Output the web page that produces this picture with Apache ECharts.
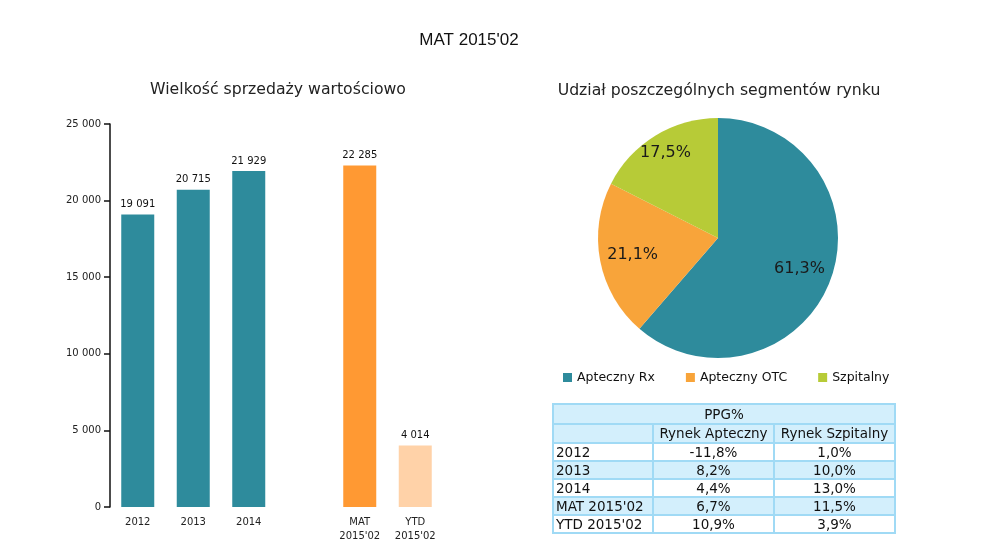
<!DOCTYPE html>
<html><head><meta charset="utf-8">
<script src="https://cdn.jsdelivr.net/npm/echarts@6/dist/echarts.min.js"></script>
<style>html,body{margin:0;padding:0;background:#fff}#c{width:984px;height:560px}</style>
</head><body><div id="c"></div>
<script>
// ---- data ----
const mainTitle = "MAT 2015'02";
const barTitle = 'Wielkość sprzedaży wartościowo';
const pieTitle = 'Udział poszczególnych segmentów rynku';
const barCategories = ['2012', '2013', '2014', '', "MAT\n2015'02", "YTD\n2015'02"];
const barValues = [19091, 20715, 21929, null, 22285, 4014];
const yTicks = [0, 5000, 10000, 15000, 20000, 25000];
const pieNames = ['Apteczny Rx', 'Apteczny OTC', 'Szpitalny'];
const pieValues = [61.3, 21.1, 17.5];
const tableTitle = 'PPG%';
const tableColumns = ['', 'Rynek Apteczny', 'Rynek Szpitalny'];
const tableRowLabels = ['2012', '2013', '2014', "MAT 2015'02", "YTD 2015'02"];
const ppgApteczny = [-11.8, 8.2, 4.4, 6.7, 10.9];
const ppgSzpitalny = [1.0, 10.0, 13.0, 11.5, 3.9];

// ---- styles ----
const FONT = 'DejaVu Sans';
const TEAL = '#2E8B9C';
const barColors = [TEAL, TEAL, TEAL, TEAL, '#FF9933', '#FFD2A8'];
const pieColors = ['#2E8B9C', '#F8A43A', '#B7CB37'];
const TB_BORDER = '#A0DAF5', TB_FILL = '#D3EFFC';

const fmtThousands = v => String(v).replace(/\B(?=(\d{3})+(?!\d))/g, ' ');
const fmtPct = v => v.toFixed(1).replace('.', ',') + '%';

// ---- table as graphic ----
const colEdges = [553, 653, 774, 895];
const rowEdges = [404, 424, 443, 461, 479, 497, 515, 533];
const graphic = [];
function cell(x0, x1, y0, y1, fill) {
  graphic.push({type: 'rect', shape: {x: x0, y: y0, width: x1 - x0, height: y1 - y0},
    style: {fill: fill, stroke: TB_BORDER, lineWidth: 2}, z: 1});
}
function txt(x, y, s, align) {
  graphic.push({type: 'text', x: x, y: y, z: 2,
    style: {text: s, font: '13.5px "' + FONT + '"', fill: '#111', align: align, verticalAlign: 'middle'}});
}
cell(colEdges[0], colEdges[3], rowEdges[0], rowEdges[1], TB_FILL);
txt((colEdges[0] + colEdges[3]) / 2, (rowEdges[0] + rowEdges[1]) / 2 + 1, tableTitle, 'center');
for (let c = 0; c < 3; c++) {
  cell(colEdges[c], colEdges[c + 1], rowEdges[1], rowEdges[2], TB_FILL);
  if (tableColumns[c]) txt((colEdges[c] + colEdges[c + 1]) / 2, (rowEdges[1] + rowEdges[2]) / 2 + 1, tableColumns[c], 'center');
}
tableRowLabels.forEach((lab, i) => {
  const y0 = rowEdges[i + 2], y1 = rowEdges[i + 3];
  const fill = i % 2 === 1 ? TB_FILL : '#FFFFFF';
  for (let c = 0; c < 3; c++) cell(colEdges[c], colEdges[c + 1], y0, y1, fill);
  const ym = (y0 + y1) / 2 + 1;
  txt(colEdges[0] + 3, ym, lab, 'left');
  txt((colEdges[1] + colEdges[2]) / 2, ym, fmtPct(ppgApteczny[i]), 'center');
  txt((colEdges[2] + colEdges[3]) / 2, ym, fmtPct(ppgSzpitalny[i]), 'center');
});

const chart = echarts.init(document.getElementById('c'));
chart.setOption({
  animation: false,
  backgroundColor: '#fff',
  textStyle: {fontFamily: FONT},
  title: [
    {text: mainTitle, left: 464, top: 27, textAlign: 'center',
      textStyle: {fontFamily: 'Liberation Sans', fontSize: 17, fontWeight: 'normal', color: '#111'}},
    {text: barTitle, left: 273, top: 77, textAlign: 'center',
      textStyle: {fontFamily: FONT, fontSize: 15.7, fontWeight: 'normal', color: '#222'}},
    {text: pieTitle, left: 714, top: 78, textAlign: 'center',
      textStyle: {fontFamily: FONT, fontSize: 15.7, fontWeight: 'normal', color: '#222'}}
  ],
  grid: {left: 110, top: 124, width: 333, height: 383},
  xAxis: {
    type: 'category', data: barCategories,
    axisLine: {show: false}, axisTick: {show: false},
    axisLabel: {fontFamily: FONT, fontSize: 10, color: '#222', margin: 8, lineHeight: 14, interval: 0}
  },
  yAxis: {
    type: 'value', min: yTicks[0], max: yTicks[yTicks.length - 1], interval: yTicks[1] - yTicks[0],
    axisLine: {show: true, lineStyle: {color: '#111', width: 1.5}},
    axisTick: {show: true, length: 6, lineStyle: {color: '#111', width: 1.5}},
    splitLine: {show: false},
    axisLabel: {fontFamily: FONT, fontSize: 10, color: '#222', margin: 9, formatter: v => fmtThousands(v)}
  },
  legend: {
    left: 558, top: 366, itemWidth: 9, itemHeight: 9, itemGap: 31, icon: 'rect',
    textStyle: {fontFamily: FONT, fontSize: 12.5, color: '#111'},
    data: pieNames.map((n, i) => ({name: n, itemStyle: {color: pieColors[i]}}))
  },
  series: [
    {
      type: 'bar', barWidth: 33,
      data: barValues.map((v, i) => ({value: v, itemStyle: {color: barColors[i]}})),
      label: {show: true, position: 'top', distance: 5, fontFamily: FONT, fontSize: 10, color: '#111',
        formatter: p => fmtThousands(p.value)}
    },
    {
      type: 'pie', name: 'share', center: [718, 238], radius: [0, 120], startAngle: 90,
      data: pieNames.map((n, i) => ({name: n, value: pieValues[i], itemStyle: {color: pieColors[i]}})),
      label: {show: false}, labelLine: {show: false}
    },
    {
      type: 'pie', name: 'labels', center: [718, 238], radius: [48, 120], startAngle: 90, silent: true,
      itemStyle: {color: 'rgba(0,0,0,0)'},
      data: pieNames.map((n, i) => ({name: n, value: pieValues[i],
        label: i === 2 ? {offset: [-7, -11]} : {}})),
      label: {show: true, position: 'inside', fontFamily: FONT, fontSize: 16, color: '#1a1a1a',
        formatter: p => fmtPct(p.value)},
      labelLine: {show: false}
    }
  ],
  graphic: graphic
});
</script></body></html>
